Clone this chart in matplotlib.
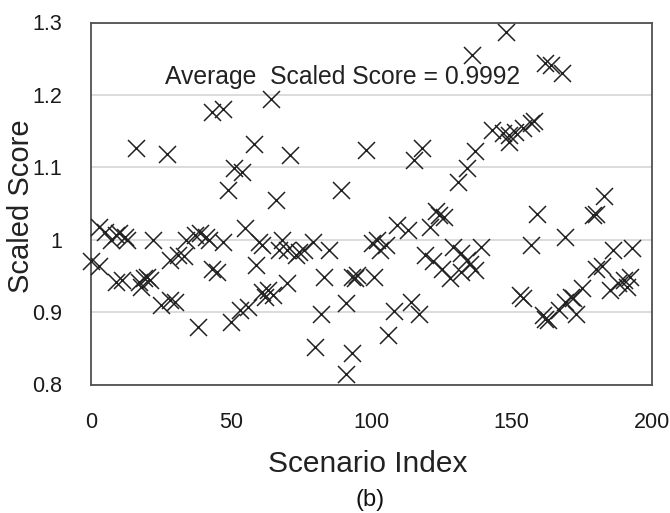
import matplotlib
matplotlib.use("Agg")
import matplotlib.pyplot as plt

plt.rcParams['font.family'] = ['Liberation Sans', 'DejaVu Sans']

scenario_index = [0, 3, 3, 5, 7, 9, 9, 10, 11, 12, 13, 16, 17, 18, 19, 20, 21, 22, 25, 27,
                  28, 28, 30, 31, 33, 34, 37, 38, 39, 41, 42, 43, 43, 45, 47, 47, 49, 50, 51, 53,
                  54, 55, 56, 58, 59, 60, 61, 61, 62, 63, 64, 65, 66, 67, 68, 70, 70, 71, 73, 74,
                  76, 79, 80, 82, 83, 85, 89, 91, 91, 93, 93, 94, 95, 98, 100, 101, 102, 103, 105, 106,
                  108, 109, 113, 114, 115, 117, 118, 119, 121, 122, 123, 124, 125, 126, 128, 129, 131, 132, 132, 134,
                  134, 135, 136, 137, 137, 139, 143, 147, 148, 149, 149, 151, 153, 154, 154, 157, 157, 158, 159, 161,
                  162, 162, 163, 164, 167, 168, 169, 169, 171, 172, 173, 175, 179, 180, 180, 182, 183, 185, 186, 188,
                  190, 191, 192, 193]
scaled_score = [0.970, 1.018, 0.963, 1.011, 1.000, 1.007, 0.942, 1.009, 0.944, 1.004, 1.000, 1.126, 0.942, 0.935, 0.947, 0.949, 0.944, 1.000, 0.910, 1.119,
                0.917, 0.972, 0.914, 0.979, 0.977, 1.000, 1.007, 0.880, 1.009, 1.004, 1.000, 1.177, 0.960, 0.956, 1.180, 0.997, 1.069, 0.887, 1.099, 0.903,
                1.093, 1.016, 0.907, 1.132, 0.965, 0.997, 0.993, 0.928, 0.921, 0.930, 1.195, 0.924, 1.055, 0.986, 1.000, 0.986, 0.940, 1.117, 0.979, 0.983,
                0.986, 0.997, 0.852, 0.898, 0.949, 0.986, 1.069, 0.815, 0.912, 0.843, 0.949, 0.947, 0.951, 1.124, 0.995, 0.949, 1.000, 0.986, 0.993, 0.868,
                0.901, 1.020, 1.013, 0.914, 1.110, 0.898, 1.126, 0.979, 1.018, 0.970, 1.039, 1.034, 0.960, 1.032, 0.947, 0.990, 1.080, 0.981, 0.956, 1.099,
                0.972, 0.967, 1.255, 1.122, 0.958, 0.990, 1.152, 1.147, 1.287, 1.135, 1.145, 1.149, 0.924, 1.154, 0.919, 1.161, 0.993, 1.164, 1.036, 0.896,
                1.244, 0.891, 0.889, 1.241, 0.903, 1.230, 1.004, 0.914, 0.921, 0.919, 0.898, 0.933, 1.034, 0.960, 1.036, 0.963, 1.060, 0.931, 0.986, 0.940,
                0.944, 0.935, 0.949, 0.988]

y_ticks = [0.8, 0.9, 1.0, 1.1, 1.2, 1.3]
y_tick_labels = ["0.8", "0.9", "1", "1.1", "1.2", "1.3"]
x_ticks = [0, 50, 100, 150, 200]
x_tick_labels = ["0", "50", "100", "150", "200"]
annotation = "Average  Scaled Score = 0.9992"

fig = plt.figure(figsize=(6.7, 5.13), dpi=100)
ax = fig.add_axes([91/670, 1-384.5/513, (652-91)/670, (384.5-22.5)/513])

ax.scatter(scenario_index, scaled_score, marker='x', s=150, c='#222222',
           linewidths=1.1, zorder=3, clip_on=False)

ax.set_xlim(0, 200)
ax.set_ylim(0.8, 1.3)
ax.set_yticks(y_ticks)
ax.set_yticklabels(y_tick_labels)
ax.set_xticks(x_ticks)
ax.set_xticklabels(x_tick_labels)
ax.tick_params(axis='both', length=0, labelsize=15.5, colors='#1a1a1a')
ax.tick_params(axis='x', pad=20)
ax.tick_params(axis='y', pad=21)
ax.yaxis.grid(True, color='#d9d9d9', linewidth=1.3, zorder=0)
ax.set_axisbelow(True)
for sp in ax.spines.values():
    sp.set_color('#505050')
    sp.set_linewidth(1.3)

ax.text(89.8, 1.215, annotation, ha='center', va='baseline', fontsize=17.8, color='#222222')

fig.text(21/670, 1-206/513, "Scaled Score", rotation=90, ha='center', va='center',
         fontsize=21, color='#222222')
fig.text(368/670, 1-464/513, "Scenario Index", ha='center', va='center',
         fontsize=21.5, color='#222222')
fig.text(370/670, 1-500/513, "(b)", ha='center', va='center',
         fontsize=17, color='#111111')

fig.savefig("out.png", dpi=100)
